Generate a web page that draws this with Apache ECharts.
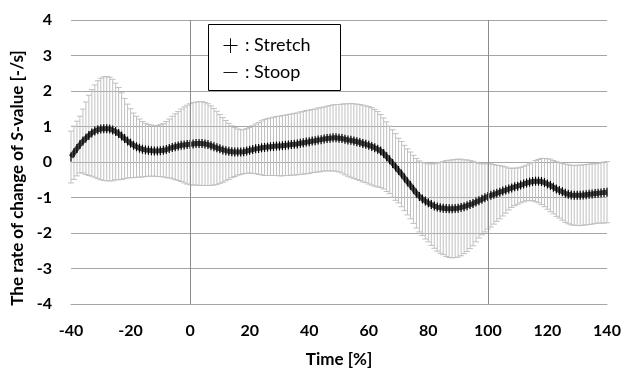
<!DOCTYPE html>
<html lang="en" style="height: 100%;width: 100%">
<head>
    <meta charset="utf-8">
</head>
<body style="height: 100%;width: 100%; margin: 0; background: #fff">
<div id="container" style="width: 623px; height: 369px;"></div>
<script type="text/javascript" src="https://cdn.jsdelivr.net/npm/echarts@6/dist/echarts.min.js"></script>
<script type="text/javascript">
    // time axis, one point per 1 %
    var timeStart = -40;
    var timeEnd = 140;

    // mean rate of change of S-value
    var meanValues = [
        0.14, 0.26, 0.38, 0.49, 0.59, 0.67, 0.75, 0.82, 0.87, 0.91,
        0.93, 0.94, 0.94, 0.93, 0.90, 0.86, 0.80, 0.73, 0.66, 0.59,
        0.53, 0.47, 0.43, 0.39, 0.36, 0.34, 0.33, 0.32, 0.31, 0.31,
        0.32, 0.33, 0.35, 0.38, 0.41, 0.43, 0.45, 0.47, 0.48, 0.49,
        0.50, 0.51, 0.52, 0.52, 0.52, 0.51, 0.49, 0.46, 0.43, 0.40,
        0.37, 0.34, 0.32, 0.30, 0.29, 0.28, 0.28, 0.28, 0.29, 0.31,
        0.33, 0.35, 0.37, 0.38, 0.40, 0.41, 0.42, 0.43, 0.44, 0.45,
        0.45, 0.46, 0.47, 0.48, 0.49, 0.50, 0.51, 0.53, 0.54, 0.56,
        0.57, 0.59, 0.60, 0.62, 0.63, 0.65, 0.66, 0.67, 0.68, 0.68,
        0.67, 0.66, 0.64, 0.62, 0.61, 0.59, 0.57, 0.55, 0.52, 0.50,
        0.47, 0.44, 0.40, 0.36, 0.31, 0.24, 0.15, 0.06, -0.04, -0.14,
        -0.24, -0.34, -0.45, -0.56, -0.66, -0.77, -0.88, -0.97, -1.04, -1.10,
        -1.15, -1.20, -1.24, -1.27, -1.29, -1.30, -1.31, -1.32, -1.32, -1.31,
        -1.30, -1.28, -1.26, -1.23, -1.20, -1.17, -1.13, -1.09, -1.05, -1.01,
        -0.97, -0.94, -0.91, -0.88, -0.85, -0.82, -0.79, -0.76, -0.73, -0.70,
        -0.68, -0.65, -0.62, -0.59, -0.57, -0.55, -0.54, -0.54, -0.55, -0.58,
        -0.62, -0.66, -0.71, -0.76, -0.80, -0.84, -0.88, -0.91, -0.93, -0.94,
        -0.94, -0.94, -0.93, -0.92, -0.91, -0.90, -0.89, -0.88, -0.87, -0.86,
        -0.85
    ];

    // standard deviation (half length of each error bar)
    var sdValues = [
        0.73, 0.75, 0.77, 0.80, 0.90, 1.02, 1.13, 1.22, 1.30, 1.38,
        1.43, 1.46, 1.47, 1.46, 1.43, 1.36, 1.30, 1.22, 1.13, 1.04,
        0.97, 0.91, 0.86, 0.82, 0.78, 0.75, 0.73, 0.72, 0.71, 0.72,
        0.73, 0.75, 0.79, 0.83, 0.88, 0.93, 0.97, 1.02, 1.07, 1.11,
        1.14, 1.16, 1.17, 1.18, 1.18, 1.17, 1.15, 1.12, 1.08, 1.03,
        0.97, 0.91, 0.85, 0.79, 0.73, 0.69, 0.65, 0.63, 0.62, 0.63,
        0.64, 0.67, 0.70, 0.73, 0.76, 0.79, 0.80, 0.81, 0.82, 0.83,
        0.84, 0.85, 0.85, 0.86, 0.86, 0.87, 0.87, 0.88, 0.88, 0.89,
        0.89, 0.89, 0.89, 0.90, 0.90, 0.90, 0.91, 0.92, 0.93, 0.94,
        0.95, 0.97, 1.00, 1.02, 1.04, 1.05, 1.06, 1.07, 1.08, 1.08,
        1.09, 1.09, 1.08, 1.06, 1.03, 1.00, 0.98, 0.95, 0.95, 0.94,
        0.91, 0.92, 0.92, 0.93, 0.94, 0.96, 0.98, 1.00, 1.03, 1.07,
        1.10, 1.15, 1.19, 1.24, 1.28, 1.31, 1.35, 1.37, 1.38, 1.38,
        1.38, 1.36, 1.32, 1.29, 1.24, 1.19, 1.12, 1.05, 1.00, 0.96,
        0.92, 0.89, 0.84, 0.79, 0.75, 0.70, 0.65, 0.59, 0.55, 0.53,
        0.51, 0.50, 0.50, 0.50, 0.52, 0.54, 0.58, 0.61, 0.65, 0.68,
        0.71, 0.74, 0.75, 0.77, 0.78, 0.80, 0.82, 0.83, 0.84, 0.84,
        0.85, 0.85, 0.85, 0.85, 0.85, 0.85, 0.84, 0.84, 0.85, 0.86,
        0.86
    ];

    var xTickLabels = ['-40', '-20', '0', '20', '40', '60', '80', '100', '120', '140'];
    var yTickLabels = ['-4', '-3', '-2', '-1', '0', '1', '2', '3', '4'];
    var markTimes = [0, 100];
    var legendRows = [': Stretch', ': Stoop'];
    var legendSigns = ['＋', '－'];

    var meanData = [];
    var barData = [];
    for (var i = 0; i < meanValues.length; i++) {
        var t = timeStart + i;
        meanData.push([t, meanValues[i]]);
        barData.push([t, meanValues[i] - sdValues[i], meanValues[i] + sdValues[i]]);
    }

    var dom = document.getElementById('container');
    var myChart = echarts.init(dom, null, {renderer: 'canvas'});

    function boldFont(extra) {
        return Object.assign({
            color: '#000',
            fontFamily: 'Lato',
            fontWeight: 'bold',
            fontSize: 16
        }, extra || {});
    }

    function renderErrorBar(params, api) {
        var x = api.value(0);
        var top = api.coord([x, api.value(2)]);
        var bot = api.coord([x, api.value(1)]);
        var s = {stroke: '#c0c0c0', lineWidth: 1};
        return {
            type: 'group',
            children: [
                {type: 'line', shape: {x1: top[0], y1: top[1], x2: bot[0], y2: bot[1]}, style: s},
                {type: 'line', shape: {x1: top[0] - 3, y1: top[1], x2: top[0] + 3, y2: top[1]}, style: s},
                {type: 'line', shape: {x1: bot[0] - 3, y1: bot[1], x2: bot[0] + 3, y2: bot[1]}, style: s}
            ]
        };
    }

    function legendText(k) {
        return {
            text: '{s|' + legendSigns[k] + '}{t|' + legendRows[k] + '}',
            rich: {
                s: {fontFamily: 'Noto Sans CJK JP', fontSize: 19, fontWeight: 300, color: '#000', padding: [0, 5, 0, 0]},
                t: {fontFamily: 'Lato', fontSize: 18, color: '#000'}
            }
        };
    }

    var option = {
        animation: false,
        backgroundColor: '#fff',
        grid: {left: 71, right: 16, top: 20, bottom: 65, outerBoundsMode: 'none', containLabel: false},
        xAxis: {
            type: 'value',
            min: timeStart,
            max: timeEnd,
            interval: 20,
            name: 'Time [%]',
            nameLocation: 'middle',
            nameGap: 47,
            nameTextStyle: boldFont({fontSize: 17}),
            axisLine: {show: true, onZero: false, lineStyle: {color: '#a6a6a6', width: 1}},
            axisTick: {show: false},
            splitLine: {show: false},
            axisLabel: boldFont({
                margin: 19,
                formatter: function (v) {
                    return xTickLabels[Math.round((v - timeStart) / 20)];
                }
            })
        },
        yAxis: {
            type: 'value',
            min: -4,
            max: 4,
            interval: 1,
            name: '{a|The rate of change of }{b|S}{a|-value [-/s]}',
            nameLocation: 'middle',
            nameGap: 35,
            nameRotate: 90,
            nameTextStyle: boldFont({
                fontSize: 17,
                padding: [0, 32, 0, 0],
                rich: {
                    a: boldFont({fontSize: 17}),
                    b: boldFont({fontSize: 17, fontStyle: 'italic'})
                }
            }),
            axisLine: {show: false},
            axisTick: {show: false},
            splitLine: {show: true, lineStyle: {color: '#a6a6a6', width: 1}},
            axisLabel: boldFont({
                margin: 19,
                formatter: function (v) {
                    return yTickLabels[Math.round(v + 4)];
                }
            })
        },
        series: [
            {
                name: 'SD',
                type: 'custom',
                renderItem: renderErrorBar,
                data: barData,
                z: 2,
                silent: true
            },
            {
                name: 'Mean',
                type: 'line',
                data: meanData,
                z: 3,
                lineStyle: {color: '#484848', width: 5},
                symbol: 'rect',
                symbolSize: [1.2, 9],
                itemStyle: {color: '#000'},
                showAllSymbol: true,
                markLine: {
                    silent: true,
                    symbol: 'none',
                    label: {show: false},
                    lineStyle: {color: '#8c8c8c', width: 1, type: 'solid'},
                    data: markTimes.map(function (t) { return {xAxis: t}; })
                }
            }
        ],
        graphic: [
            {
                type: 'rect',
                left: 208,
                top: 24,
                shape: {width: 132, height: 66},
                style: {fill: '#fff', stroke: '#000', lineWidth: 1},
                z: 10
            },
            {type: 'text', left: 221, top: 36, z: 11, style: legendText(0)},
            {type: 'text', left: 221, top: 63, z: 11, style: legendText(1)}
        ]
    };
    myChart.setOption(option);
</script>
</body>
</html>
